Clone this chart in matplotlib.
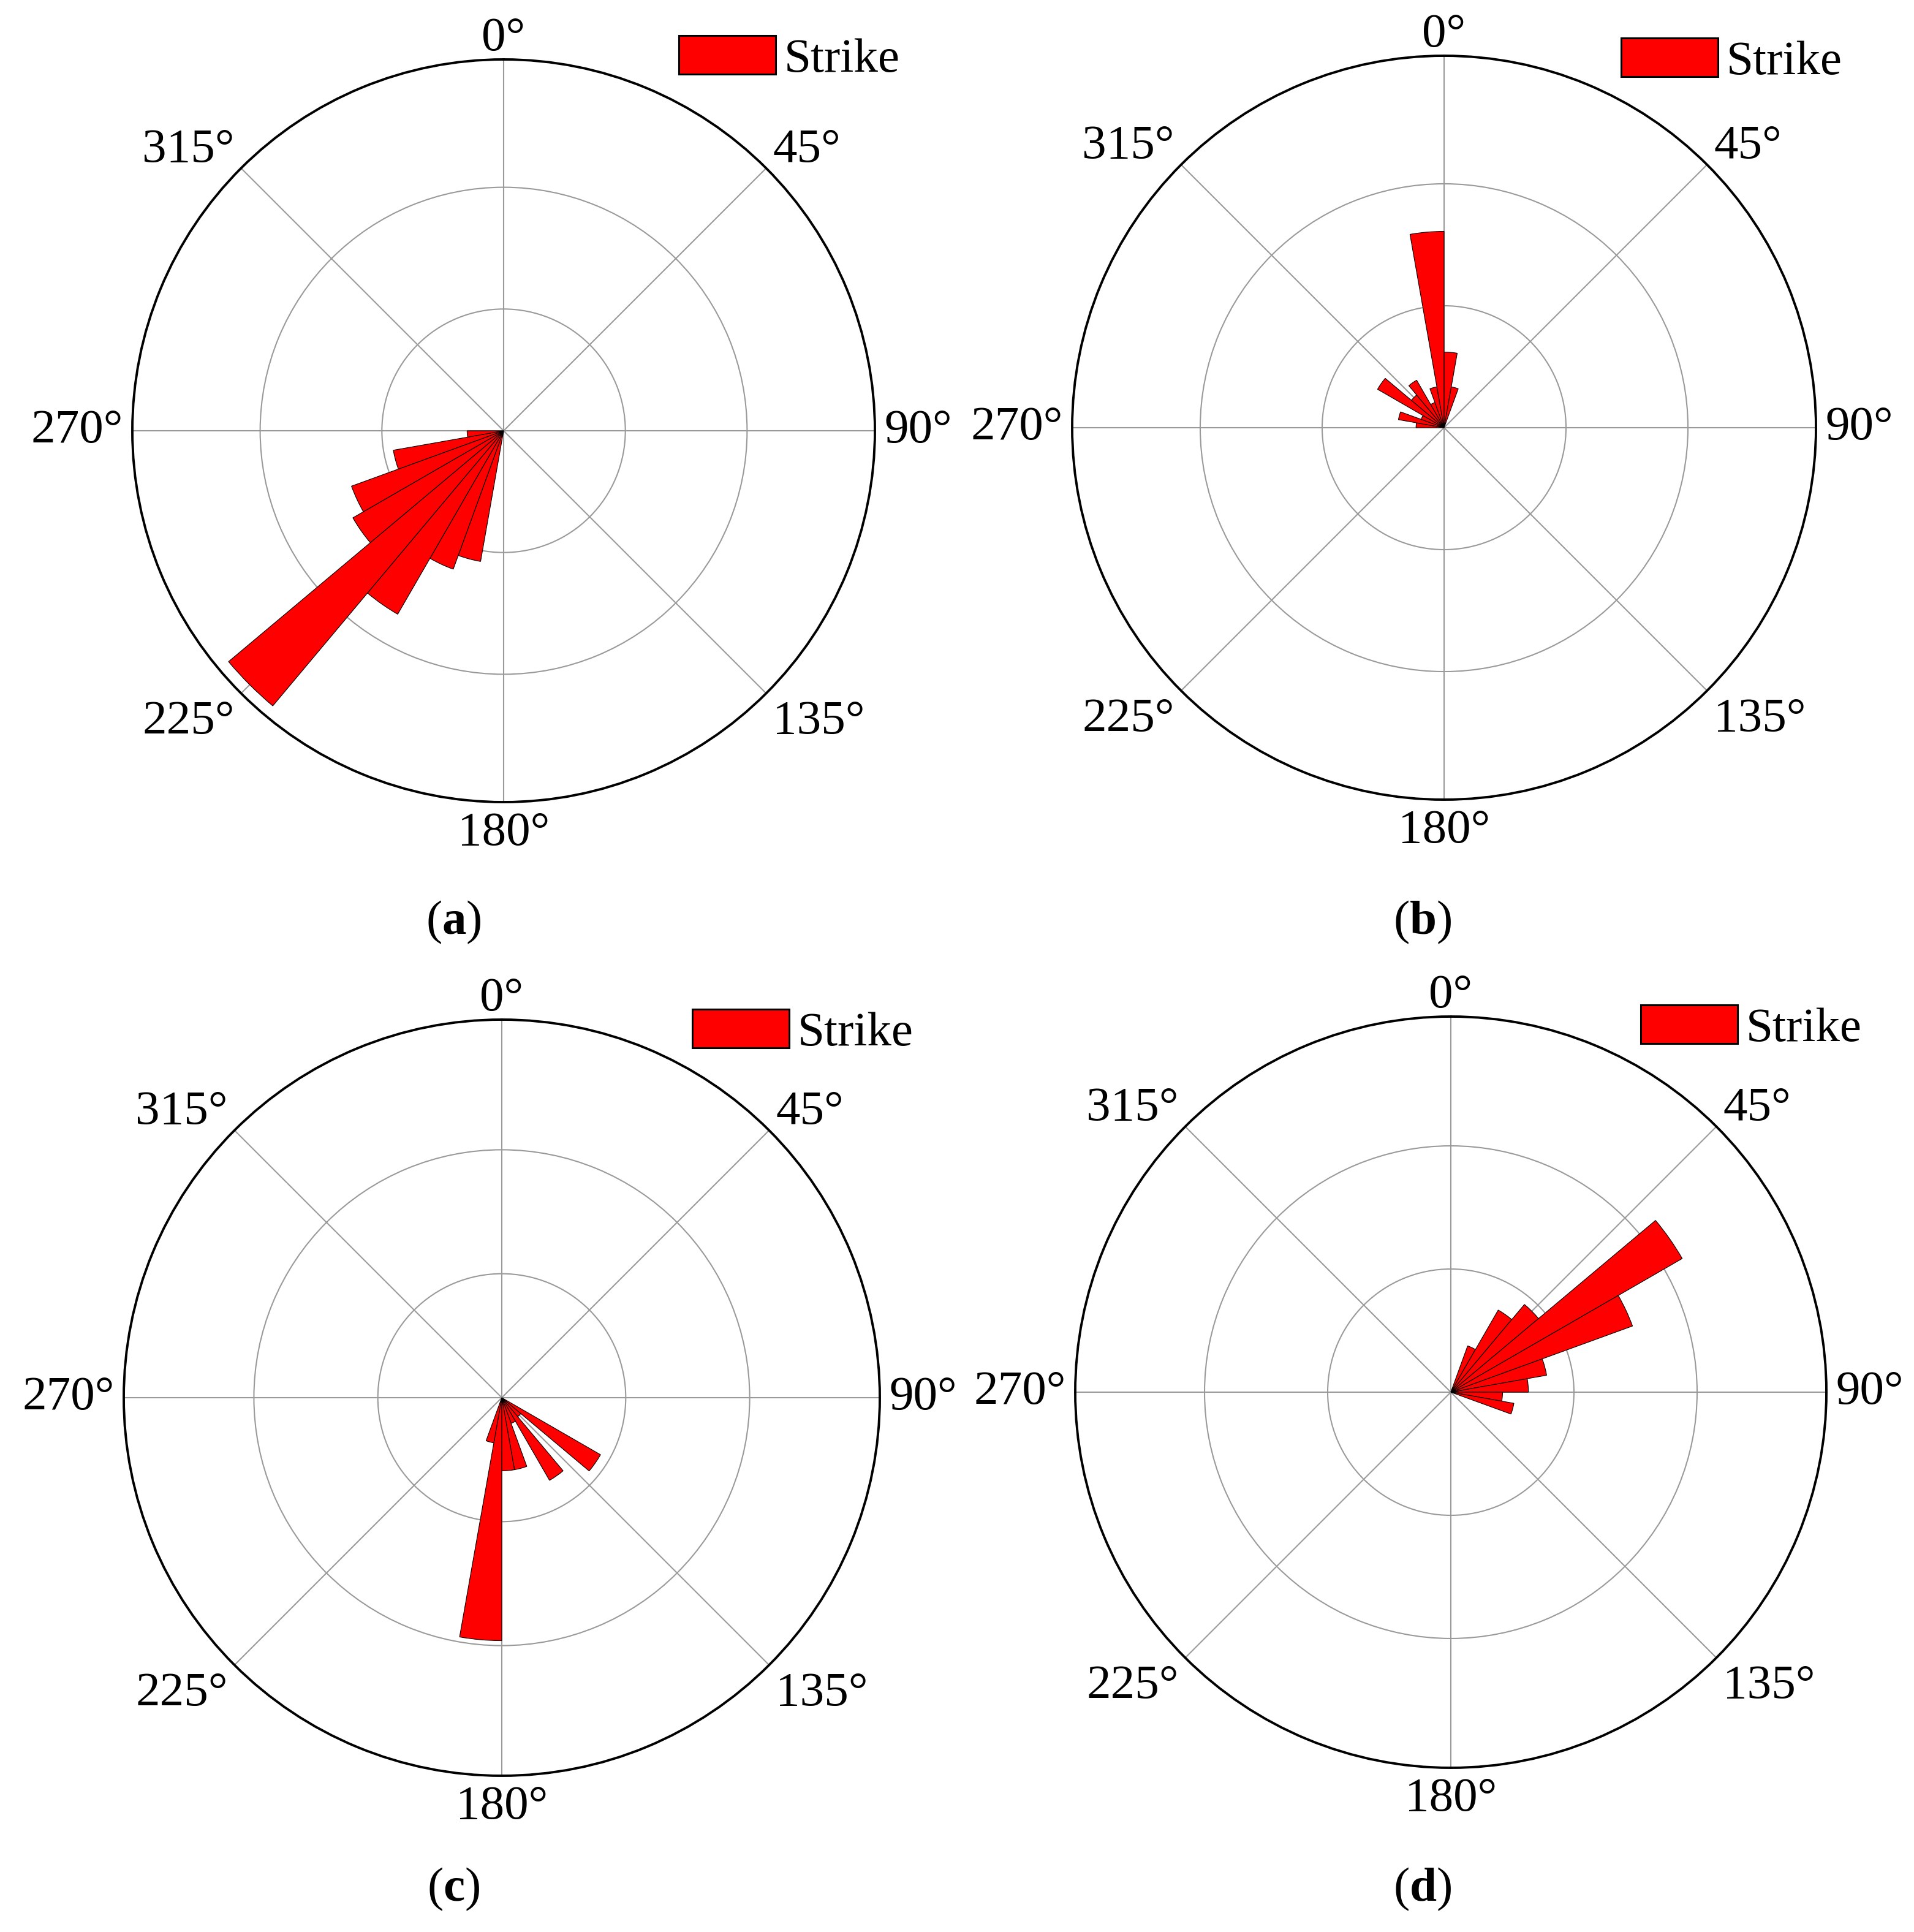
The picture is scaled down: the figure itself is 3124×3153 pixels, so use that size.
import numpy as np
import matplotlib
matplotlib.use("Agg")
import matplotlib.pyplot as plt

plt.rcParams['font.family'] = ['Liberation Serif', 'DejaVu Serif']
plt.rcParams['mathtext.fontset'] = 'custom'
plt.rcParams['mathtext.rm'] = 'Liberation Serif'
plt.rcParams['mathtext.bf'] = 'Liberation Serif:bold'

# strike directions (left edge of 10 deg bins) and bar lengths (ring units)
a_dirs = [190, 200, 210, 220, 230, 240, 250, 260]
a_vals = [1.09, 1.21, 1.74, 2.95, 1.43, 1.33, 0.92, 0.30]

b_dirs = [270, 280, 290, 300, 310, 320, 330, 340, 350, 0, 10]
b_vals = [0.23, 0.38, 0.20, 0.63, 0.35, 0.45, 0.22, 0.34, 1.61, 0.62, 0.34]

c_dirs = [120, 130, 140, 150, 160, 170, 180, 190]
c_vals = [0.92, 0.20, 0.77, 0.22, 0.59, 0.59, 1.96, 0.37]

d_dirs = [20, 30, 40, 50, 60, 70, 80, 90, 100]
d_vals = [0.40, 0.77, 0.93, 2.17, 1.57, 0.79, 0.63, 0.42, 0.52]

theta_ticks = [0, 45, 90, 135, 180, 225, 270, 315]
theta_labels = ['0°', '45°', '90°', '135°', '180°', '225°', '270°', '315°']
panel_names = ['a', 'b', 'c', 'd']

W, H = 3124, 3153
RMAX = 3.05
FS = 57

# centre x, centre y, radius (pixels from top left)
circles = [(822, 703, 606), (2357, 698, 607), (819, 2281, 617), (2368, 2272, 613)]
legend_pos = [(1108, 96), (2646, 100), (1130, 1685), (2678, 1678)]
caption_pos = [(740, 1505), (2322, 1505), (740, 3083), (2322, 3083)]

fig = plt.figure(figsize=(W / 100, H / 100), dpi=100)


def rose(ax, dirs, vals):
    ax.set_theta_zero_location('N')
    ax.set_theta_direction(-1)
    bars = ax.bar(np.deg2rad(dirs), vals, width=np.deg2rad(10), align='edge',
                  color='#ff0000', edgecolor='black', linewidth=0.8,
                  label='Strike', zorder=3)
    ax.set_ylim(0, RMAX)
    ax.set_yticks([1, 2])
    ax.set_yticklabels([])
    ax.set_xticks(np.deg2rad(theta_ticks))
    ax.set_xticklabels([])
    ax.tick_params(length=0)
    ax.grid(True, color='#9a9a9a', linewidth=1.5)
    ax.spines['polar'].set_linewidth(2.8)
    for ang, lab in zip(theta_ticks, theta_labels):
        s, c = np.sin(np.deg2rad(ang)), np.cos(np.deg2rad(ang))
        ha = 'left' if s > 0.1 else ('right' if s < -0.1 else 'center')
        va = 'baseline' if c > 0.1 else ('top' if c < -0.1 else 'center')
        pad = 11
        ax.annotate(lab, xy=(np.deg2rad(ang), RMAX), xytext=(pad * s, pad * c),
                    textcoords='offset points', ha=ha, va=va, fontsize=FS,
                    annotation_clip=False)
    return bars


all_dirs = [a_dirs, b_dirs, c_dirs, d_dirs]
all_vals = [a_vals, b_vals, c_vals, d_vals]

for i in range(4):
    cx, cy, r = circles[i]
    ax = fig.add_axes([(cx - r) / W, 1 - (cy + r) / H, 2 * r / W, 2 * r / H],
                      projection='polar')
    rose(ax, all_dirs[i], all_vals[i])
    lx, ly = legend_pos[i]
    leg = ax.legend(loc='center left', bbox_to_anchor=(lx / W, 1 - ly / H),
                    bbox_transform=fig.transFigure, frameon=False,
                    fontsize=FS, borderpad=0, borderaxespad=0,
                    handlelength=2.0, handleheight=0.85, handletextpad=0.17)
    for p in leg.get_patches():
        p.set_linewidth(2.2)
    tx, ty = caption_pos[i]
    fig.text(tx / W, 1 - ty / H,
             '$\\mathrm{(}\\mathbf{' + panel_names[i] + '}\\mathrm{)}$',
             ha='center', va='center', fontsize=FS)

fig.savefig('out.png', dpi=100)
